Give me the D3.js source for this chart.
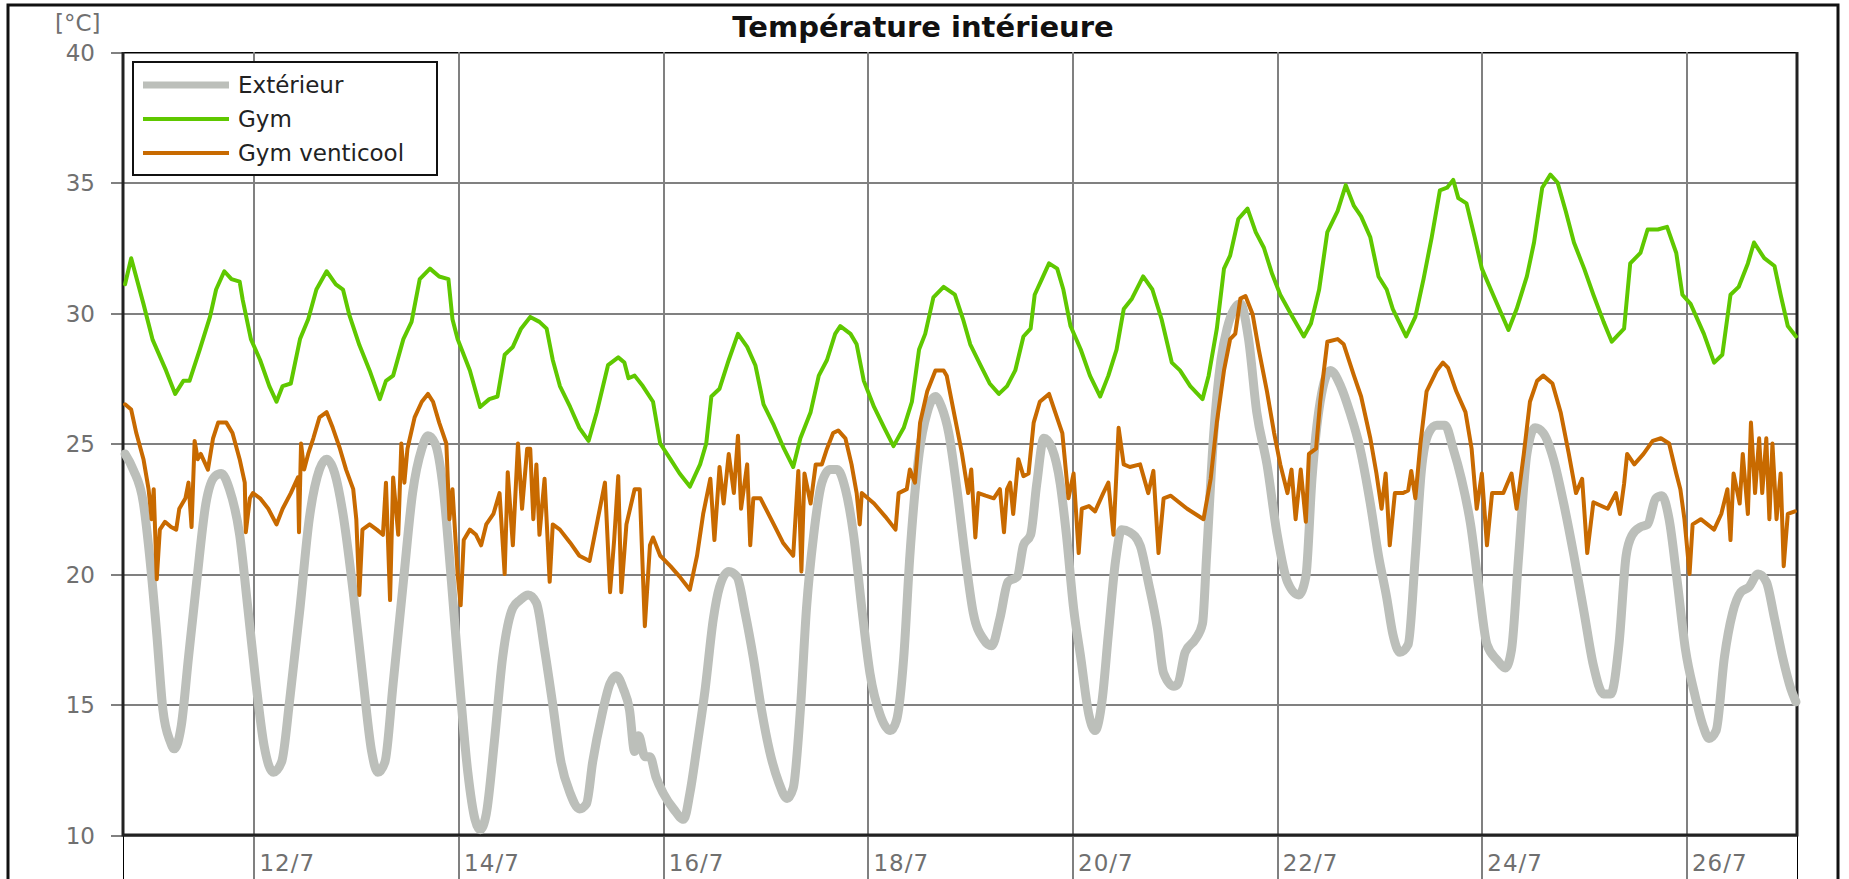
<!DOCTYPE html>
<html>
<head>
<meta charset="utf-8">
<title>Température intérieure</title>
<script src="https://d3js.org/d3.v7.min.js"></script>
<style>
  body { margin: 0; background: #fff; }
  svg { display: block; font-family: "DejaVu Sans", sans-serif; }
  .axis path { display: none; }
  .axis line, .grid line { stroke: #808080; stroke-width: 2; shape-rendering: crispEdges; }
  .grid text { display: none; }
  .axis text { fill: #707070; font-size: 23px; font-family: "DejaVu Sans", sans-serif; }
</style>
</head>
<body>
<script>
// day of July (fractional), temperature in °C
var seriesNames = ["Extérieur", "Gym", "Gym venticool"];
var tickDays = [12, 14, 16, 18, 20, 22, 24, 26];
var yTicks = [10, 15, 20, 25, 30, 35, 40];

var exterieur = [
  [10.74,24.6],[10.82,24.0],[10.92,22.7],[10.98,20.7],[11.05,17.7],[11.11,14.8],[11.18,13.6],[11.22,13.3],
  [11.29,14.2],[11.36,16.8],[11.44,19.7],[11.53,22.7],[11.62,23.75],[11.68,23.85],[11.76,23.25],[11.86,21.5],
  [11.94,18.7],[12.02,15.8],[12.10,13.4],[12.19,12.4],[12.27,12.8],[12.35,15.2],[12.45,18.7],[12.54,22.1],
  [12.64,24.0],[12.71,24.4],[12.79,23.85],[12.87,22.3],[12.97,19.3],[13.07,15.8],[13.15,13.2],[13.21,12.4],
  [13.28,12.8],[13.36,15.8],[13.46,19.7],[13.55,23.1],[13.64,24.8],[13.70,25.3],[13.77,25.0],[13.85,23.25],
  [13.93,19.7],[14.01,15.8],[14.09,12.4],[14.16,10.6],[14.21,10.2],[14.27,10.8],[14.35,13.6],[14.43,16.8],
  [14.53,18.7],[14.60,19.0],[14.68,19.2],[14.76,18.9],[14.84,17.1],[14.92,15.0],[15.00,12.8],[15.09,11.6],
  [15.18,11.0],[15.25,11.2],[15.31,12.8],[15.40,14.6],[15.48,15.8],[15.54,16.1],[15.61,15.6],[15.67,14.8],
  [15.72,13.2],[15.76,13.8],[15.82,13.0],[15.87,13.0],[15.93,12.2],[16.00,11.6],[16.10,11.0],[16.20,10.6],
  [16.26,11.6],[16.33,13.4],[16.41,15.6],[16.49,18.3],[16.55,19.5],[16.64,20.1],[16.72,19.9],[16.80,18.5],
  [16.88,16.8],[16.96,14.8],[17.04,13.2],[17.13,12.0],[17.21,11.4],[17.27,11.8],[17.34,14.8],[17.40,18.7],
  [17.47,21.5],[17.55,23.5],[17.63,24.0],[17.70,24.0],[17.78,23.25],[17.86,21.5],[17.94,18.7],[18.02,16.2],
  [18.12,14.6],[18.22,14.0],[18.28,14.4],[18.35,16.8],[18.41,20.7],[18.50,24.6],[18.58,26.2],[18.66,26.8],
  [18.72,26.4],[18.79,25.4],[18.87,23.25],[18.95,20.7],[19.03,18.5],[19.13,17.5],[19.21,17.25],[19.29,18.3],
  [19.37,19.7],[19.46,19.9],[19.52,21.1],[19.59,21.5],[19.65,23.45],[19.72,25.2],[19.80,24.8],[19.88,23.45],
  [19.94,21.5],[20.01,18.7],[20.08,16.8],[20.16,14.6],[20.22,14.0],[20.29,15.2],[20.35,17.7],[20.42,20.5],
  [20.48,21.7],[20.56,21.6],[20.66,21.1],[20.74,19.7],[20.83,17.9],[20.89,16.2],[20.99,15.7],[21.03,15.8],
  [21.10,17.0],[21.20,17.5],[21.27,18.1],[21.31,20.7],[21.38,25.4],[21.45,28.2],[21.51,29.4],[21.58,30.15],
  [21.64,30.35],[21.72,29.0],[21.80,26.2],[21.90,24.2],[22.00,21.5],[22.10,19.7],[22.21,19.2],[22.28,19.9],
  [22.34,23.65],[22.42,26.6],[22.52,27.8],[22.62,27.2],[22.71,26.2],[22.81,24.8],[22.91,22.7],[22.99,20.7],
  [23.07,19.1],[23.13,17.7],[23.20,17.0],[23.28,17.3],[23.35,20.7],[23.41,24.0],[23.48,25.4],[23.56,25.7],
  [23.64,25.7],[23.72,24.8],[23.80,23.65],[23.89,21.9],[23.97,19.5],[24.05,17.3],[24.15,16.7],[24.23,16.4],
  [24.29,17.1],[24.36,20.7],[24.44,24.6],[24.52,25.6],[24.60,25.4],[24.70,24.4],[24.80,22.7],[24.90,20.7],
  [25.00,18.5],[25.09,16.5],[25.19,15.4],[25.26,15.4],[25.34,17.3],[25.41,20.7],[25.47,21.5],[25.55,21.8],
  [25.62,21.9],[25.70,22.9],[25.76,23.0],[25.83,22.1],[25.91,19.7],[25.99,17.1],[26.08,15.4],[26.16,14.2],
  [26.22,13.7],[26.29,14.0],[26.37,16.8],[26.45,18.5],[26.53,19.3],[26.61,19.5],[26.70,20.0],[26.78,19.7],
  [26.86,18.3],[26.94,16.8],[27.02,15.6],[27.07,15.1]
];

var gym = [
  [10.74,31.1],[10.80,32.1],[10.92,30.35],[11.01,28.97],[11.14,27.8],[11.23,26.9],[11.31,27.4],[11.37,27.4],
  [11.47,28.6],[11.57,29.85],[11.63,30.9],[11.71,31.6],[11.78,31.3],[11.86,31.2],[11.89,30.5],[11.97,29.0],
  [12.06,28.2],[12.15,27.2],[12.22,26.6],[12.28,27.2],[12.36,27.3],[12.45,29.0],[12.53,29.76],[12.61,30.9],
  [12.71,31.6],[12.80,31.1],[12.87,30.9],[12.93,29.95],[13.03,28.77],[13.13,27.8],[13.23,26.7],[13.29,27.4],
  [13.36,27.6],[13.46,29.0],[13.54,29.66],[13.62,31.3],[13.72,31.7],[13.81,31.4],[13.90,31.3],[13.94,29.76],
  [13.99,29.0],[14.11,27.8],[14.21,26.4],[14.30,26.7],[14.38,26.8],[14.45,28.4],[14.53,28.7],[14.61,29.4],
  [14.70,29.85],[14.79,29.66],[14.86,29.4],[14.92,28.2],[14.99,27.2],[15.09,26.4],[15.18,25.6],[15.27,25.1],
  [15.35,26.2],[15.46,28.0],[15.56,28.3],[15.62,28.1],[15.66,27.5],[15.72,27.6],[15.80,27.2],[15.90,26.6],
  [15.97,25.0],[16.07,24.4],[16.16,23.85],[16.26,23.35],[16.36,24.2],[16.42,25.0],[16.47,26.8],[16.55,27.1],
  [16.64,28.2],[16.73,29.2],[16.82,28.7],[16.90,28.0],[16.98,26.5],[17.08,25.7],[17.18,24.8],[17.27,24.1],
  [17.34,25.2],[17.44,26.2],[17.52,27.6],[17.60,28.2],[17.68,29.2],[17.73,29.5],[17.83,29.2],[17.89,28.8],
  [17.96,27.4],[18.06,26.4],[18.16,25.6],[18.25,24.9],[18.35,25.6],[18.43,26.6],[18.50,28.6],[18.56,29.2],
  [18.64,30.6],[18.74,31.0],[18.85,30.7],[18.93,29.76],[19.00,28.8],[19.10,28.0],[19.19,27.3],[19.28,26.9],
  [19.36,27.2],[19.44,27.8],[19.52,29.1],[19.59,29.4],[19.63,30.7],[19.70,31.3],[19.77,31.9],[19.85,31.7],
  [19.91,30.9],[19.98,29.5],[20.08,28.6],[20.17,27.6],[20.27,26.8],[20.35,27.6],[20.43,28.6],[20.50,30.15],
  [20.58,30.55],[20.69,31.4],[20.78,30.9],[20.87,29.76],[20.97,28.1],[21.05,27.8],[21.15,27.2],[21.27,26.7],
  [21.33,27.6],[21.41,29.4],[21.48,31.7],[21.54,32.2],[21.62,33.6],[21.71,34.0],[21.79,33.1],[21.87,32.5],
  [21.95,31.5],[22.03,30.7],[22.15,29.85],[22.26,29.1],[22.33,29.6],[22.41,30.9],[22.49,33.1],[22.59,33.9],
  [22.67,34.9],[22.75,34.1],[22.82,33.7],[22.91,32.9],[22.99,31.4],[23.07,30.9],[23.13,30.15],[23.26,29.1],
  [23.35,29.85],[23.43,31.3],[23.51,32.9],[23.59,34.7],[23.66,34.8],[23.72,35.1],[23.77,34.4],[23.85,34.2],
  [23.93,32.9],[24.00,31.7],[24.11,30.7],[24.26,29.35],[24.34,30.15],[24.44,31.4],[24.51,32.7],[24.59,34.8],
  [24.67,35.3],[24.74,35.0],[24.82,33.9],[24.90,32.7],[25.00,31.7],[25.09,30.7],[25.19,29.66],[25.27,28.9],
  [25.39,29.4],[25.45,31.9],[25.55,32.3],[25.62,33.2],[25.72,33.2],[25.81,33.3],[25.90,32.3],[25.96,30.7],
  [26.04,30.35],[26.17,29.2],[26.27,28.1],[26.35,28.4],[26.43,30.7],[26.51,31.0],[26.60,31.9],[26.66,32.7],
  [26.76,32.1],[26.86,31.8],[26.92,30.7],[26.99,29.5],[27.07,29.1]
];

var gymVenticool = [
  [10.74,26.5],[10.80,26.3],[10.85,25.4],[10.92,24.4],[10.97,23.25],[11.00,22.1],[11.02,23.25],[11.05,19.8],
  [11.08,21.7],[11.13,22.0],[11.19,21.8],[11.24,21.7],[11.27,22.5],[11.33,22.9],[11.36,23.5],[11.39,21.8],
  [11.42,25.1],[11.45,24.4],[11.48,24.6],[11.55,24.0],[11.60,25.2],[11.65,25.8],[11.73,25.8],[11.79,25.4],
  [11.86,24.4],[11.91,23.5],[11.92,21.6],[11.96,22.9],[11.99,23.1],[12.06,22.9],[12.14,22.5],[12.22,21.9],
  [12.28,22.5],[12.36,23.1],[12.43,23.7],[12.44,21.6],[12.46,25.0],[12.49,24.0],[12.53,24.6],[12.58,25.2],
  [12.64,26.0],[12.71,26.2],[12.77,25.6],[12.84,24.8],[12.90,24.0],[12.97,23.25],[13.00,22.1],[13.03,19.2],
  [13.06,21.7],[13.13,21.9],[13.20,21.7],[13.26,21.5],[13.29,23.5],[13.33,19.0],[13.36,23.7],[13.41,21.5],
  [13.44,25.0],[13.47,23.5],[13.50,24.8],[13.57,26.0],[13.64,26.6],[13.70,26.9],[13.75,26.6],[13.81,25.8],
  [13.88,25.0],[13.91,22.1],[13.94,23.25],[13.99,20.0],[14.02,18.8],[14.05,21.3],[14.11,21.7],[14.17,21.5],
  [14.22,21.1],[14.27,21.9],[14.34,22.3],[14.40,23.1],[14.45,20.0],[14.48,23.9],[14.53,21.1],[14.58,25.0],
  [14.62,22.5],[14.67,24.8],[14.70,24.8],[14.73,22.1],[14.76,24.2],[14.79,21.5],[14.84,23.65],[14.89,19.7],
  [14.92,21.9],[14.99,21.7],[15.09,21.2],[15.18,20.7],[15.28,20.5],[15.36,22.1],[15.43,23.5],[15.48,19.3],
  [15.52,21.3],[15.56,23.75],[15.59,19.3],[15.64,21.9],[15.72,23.25],[15.77,23.25],[15.82,18.0],[15.87,21.1],
  [15.90,21.4],[15.97,20.7],[16.07,20.3],[16.16,19.9],[16.26,19.4],[16.33,20.7],[16.39,22.3],[16.46,23.65],
  [16.50,21.3],[16.55,24.1],[16.59,22.7],[16.64,24.6],[16.69,23.1],[16.73,25.3],[16.76,22.5],[16.82,24.2],
  [16.85,21.1],[16.88,22.9],[16.95,22.9],[17.08,21.9],[17.17,21.2],[17.27,20.7],[17.32,23.95],[17.35,20.1],
  [17.38,23.85],[17.44,22.7],[17.49,24.2],[17.55,24.2],[17.60,24.8],[17.66,25.4],[17.71,25.5],[17.78,25.2],
  [17.84,24.2],[17.89,23.1],[17.92,21.9],[17.94,23.1],[18.06,22.7],[18.17,22.2],[18.27,21.7],[18.30,23.1],
  [18.38,23.25],[18.41,24.0],[18.46,23.5],[18.51,25.8],[18.58,27.0],[18.66,27.8],[18.74,27.8],[18.77,27.6],
  [18.85,26.0],[18.92,24.6],[18.98,23.1],[19.01,24.0],[19.05,21.4],[19.08,23.1],[19.15,23.0],[19.23,22.9],
  [19.29,23.25],[19.33,21.6],[19.36,23.25],[19.39,23.5],[19.42,22.3],[19.47,24.4],[19.52,23.75],[19.57,23.85],
  [19.62,25.8],[19.68,26.6],[19.77,26.9],[19.83,26.2],[19.90,25.4],[19.96,22.9],[20.01,23.85],[20.06,20.8],
  [20.09,22.5],[20.16,22.6],[20.22,22.4],[20.30,23.1],[20.35,23.5],[20.40,21.5],[20.45,25.6],[20.50,24.2],
  [20.56,24.1],[20.66,24.2],[20.74,23.1],[20.79,23.95],[20.84,20.8],[20.89,22.9],[20.96,23.0],[21.12,22.5],
  [21.28,22.1],[21.35,23.65],[21.41,25.8],[21.48,27.8],[21.54,29.0],[21.59,29.2],[21.64,30.55],[21.69,30.65],
  [21.76,29.95],[21.82,28.6],[21.90,27.0],[21.97,25.4],[22.03,24.2],[22.10,23.1],[22.14,24.0],[22.18,22.1],
  [22.23,24.0],[22.28,22.0],[22.31,24.6],[22.38,24.8],[22.42,26.6],[22.49,28.9],[22.59,29.0],[22.65,28.8],
  [22.75,27.6],[22.82,26.8],[22.91,25.2],[22.97,23.85],[23.02,22.5],[23.06,23.85],[23.10,21.1],[23.15,23.1],
  [23.23,23.1],[23.28,23.2],[23.31,23.95],[23.35,22.9],[23.40,25.0],[23.46,27.0],[23.56,27.8],[23.62,28.1],
  [23.67,27.9],[23.75,27.0],[23.84,26.2],[23.90,24.8],[23.95,22.5],[24.00,23.85],[24.05,21.1],[24.10,23.1],
  [24.21,23.1],[24.29,23.85],[24.34,22.5],[24.41,24.6],[24.47,26.6],[24.54,27.4],[24.60,27.6],[24.69,27.3],
  [24.77,26.2],[24.85,24.6],[24.92,23.1],[24.98,23.65],[25.03,20.8],[25.09,22.75],[25.23,22.5],[25.31,23.1],
  [25.35,22.3],[25.39,23.45],[25.42,24.6],[25.49,24.2],[25.58,24.6],[25.67,25.1],[25.75,25.2],[25.83,25.0],
  [25.90,23.85],[25.94,23.25],[25.98,22.1],[26.03,20.0],[26.06,21.9],[26.14,22.1],[26.27,21.7],[26.34,22.3],
  [26.40,23.25],[26.43,21.3],[26.46,23.85],[26.52,22.7],[26.55,24.6],[26.60,22.3],[26.63,25.8],[26.67,23.1],
  [26.71,25.2],[26.74,23.1],[26.78,25.2],[26.81,22.1],[26.84,25.0],[26.88,22.1],[26.92,23.85],[26.95,20.3],
  [26.99,22.3],[27.06,22.4]
];

var colors = ["#bcbfba", "#5fc800", "#c86a00"];
var widths = [9, 4, 4];

var W = 1849, H = 879;
var plotL = 123, plotR = 1797, plotT = 52, plotB = 835;

var svg = d3.select("body").append("svg")
  .attr("width", W)
  .attr("height", H);

svg.append("rect").attr("width", W).attr("height", H).attr("fill", "#fff");

var x = d3.scaleLinear().domain([10.72, 27.08]).range([plotL, plotR]);
var y = d3.scaleLinear().domain([10, 40]).range([plotB, plotT]);

// horizontal grid + left ticks
var yAxis = svg.append("g")
  .attr("class", "axis")
  .attr("transform", "translate(" + (plotL - 12) + ",0)")
  .call(d3.axisLeft(y).tickValues(yTicks).tickSize(-(plotR - plotL + 12)).tickPadding(16));
yAxis.selectAll("text").attr("dy", "0.36em");

// vertical grid down to the bottom edge
svg.append("g")
  .attr("class", "grid")
  .attr("transform", "translate(0," + plotT + ")")
  .call(d3.axisBottom(x).tickValues(tickDays).tickSize(H - plotT));

var xAxis = svg.append("g")
  .attr("class", "axis")
  .attr("transform", "translate(0," + plotB + ")")
  .call(d3.axisBottom(x).tickValues(tickDays).tickSize(0)
    .tickFormat(function(d) { return d + "/7"; }));
xAxis.selectAll("text")
  .attr("text-anchor", "start")
  .attr("x", 5)
  .attr("y", 36)
  .attr("dy", null)
  .style("letter-spacing", "1px");

// plot frame
svg.append("path")
  .attr("d", "M" + plotL + "," + plotT + "V" + plotB + "H" + plotR + "V" + plotT)
  .attr("fill", "none")
  .attr("stroke", "#222")
  .attr("stroke-width", 3);

var line = d3.line()
  .x(function(d) { return x(d[0]); })
  .y(function(d) { return y(d[1]); });

[exterieur, gym, gymVenticool].forEach(function(s, i) {
  svg.append("path")
    .datum(s)
    .attr("d", i == 0 ? line.curve(d3.curveMonotoneX)(s) : line.curve(d3.curveLinear)(s))
    .attr("fill", "none")
    .attr("stroke", colors[i])
    .attr("stroke-width", widths[i])
    .attr("stroke-linejoin", "round")
    .attr("stroke-linecap", "round");
});

// legend
var legend = svg.append("g");
legend.append("rect")
  .attr("x", 133).attr("y", 62)
  .attr("width", 304).attr("height", 113)
  .attr("fill", "#fff")
  .attr("stroke", "#111")
  .attr("stroke-width", 2);

seriesNames.forEach(function(name, i) {
  var ly = 85 + i * 34;
  legend.append("line")
    .attr("x1", 143).attr("x2", 229)
    .attr("y1", ly).attr("y2", ly)
    .attr("stroke", colors[i])
    .attr("stroke-width", i == 0 ? 7 : 4);
  legend.append("text")
    .attr("x", 238).attr("y", ly)
    .attr("dy", "0.36em")
    .style("font-size", "23px")
    .style("fill", "#222")
    .text(name);
});

// title + unit
svg.append("text")
  .attr("x", 923).attr("y", 37)
  .attr("text-anchor", "middle")
  .style("font-size", "29px")
  .style("font-weight", "bold")
  .style("fill", "#111")
  .text("Température intérieure");

svg.append("text")
  .attr("x", 55).attr("y", 31)
  .style("font-size", "23px")
  .style("fill", "#707070")
  .text("[°C]");

// outer frame
svg.append("rect")
  .attr("x", 8).attr("y", 5)
  .attr("width", 1830).attr("height", H + 20)
  .attr("fill", "none")
  .attr("stroke", "#111")
  .attr("stroke-width", 3);
</script>
</body>
</html>
